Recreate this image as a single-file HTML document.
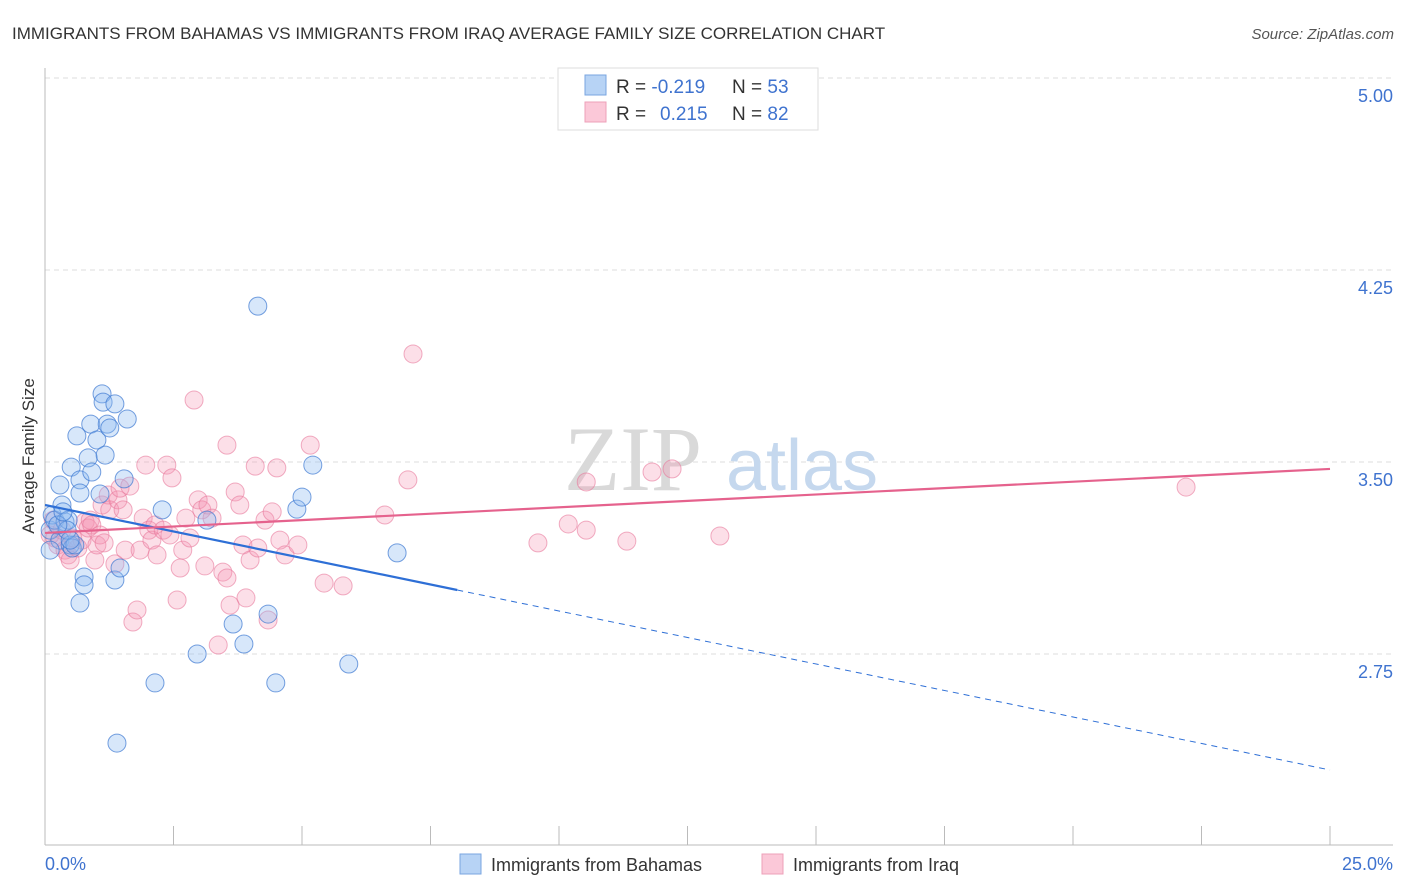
<!DOCTYPE html>
<html><head><meta charset="utf-8"><style>
html,body{margin:0;padding:0;background:#fff;width:1406px;height:892px;overflow:hidden;font-family:"Liberation Sans",sans-serif}
</style></head><body>
<svg id="chart" width="1406" height="892" xmlns="http://www.w3.org/2000/svg" font-family="Liberation Sans, sans-serif">
<text x="12" y="39" font-size="17" fill="#333">IMMIGRANTS FROM BAHAMAS VS IMMIGRANTS FROM IRAQ AVERAGE FAMILY SIZE CORRELATION CHART</text>
<text x="1394" y="39" font-size="15" fill="#555" font-style="italic" text-anchor="end">Source: ZipAtlas.com</text>
<g id="grid"></g>
<g>
<text x="633" y="490" font-size="92" font-family="Liberation Serif, serif" fill="#d9d9d9" text-anchor="middle">ZIP</text>
<text x="802" y="490" font-size="72" fill="#c5d8ee" text-anchor="middle">atlas</text>
</g>
<g id="axes"></g>
<g id="points"></g>
<g id="trends"></g>
<text transform="translate(34,456) rotate(-90)" font-size="17" fill="#333" text-anchor="middle">Average Family Size</text>
<g>
<rect x="558" y="68" width="260" height="62" fill="#fff" stroke="#ddd"/>
<rect x="585" y="75" width="21" height="20" fill="#b7d3f5" stroke="#7aa6e0"/>
<text x="616" y="93" font-size="19" fill="#333">R = <tspan fill="#3f73cf">-0.219</tspan><tspan x="732">N = </tspan><tspan fill="#3f73cf">53</tspan></text>
<rect x="585" y="102" width="21" height="20" fill="#fbc8d8" stroke="#eea0b9"/>
<text x="616" y="120" font-size="19" fill="#333">R = <tspan x="660" fill="#3f73cf">0.215</tspan><tspan x="732">N = </tspan><tspan fill="#3f73cf">82</tspan></text>
</g>
<g>
<rect x="460" y="854" width="21" height="20" fill="#b7d3f5" stroke="#7aa6e0"/>
<text x="491" y="871" font-size="18" fill="#333">Immigrants from Bahamas</text>
<rect x="762" y="854" width="21" height="20" fill="#fbc8d8" stroke="#eea0b9"/>
<text x="793" y="871" font-size="18" fill="#333">Immigrants from Iraq</text>
</g>
</svg>
<script>
const yTicks=[5.00,4.25,3.50,2.75];
const yTickLabels=["5.00","4.25","3.50","2.75"];
const xTicks=[0,2.5,5,7.5,10,12.5,15,17.5,20,22.5,25];
const xEndLabels=["0.0%","25.0%"];
const bahamasX=[0.10,0.14,0.19,0.29,0.33,0.39,0.45,0.49,0.53,0.58,0.10,0.29,0.51,0.62,0.68,0.68,0.84,0.89,0.91,1.01,1.07,1.11,1.13,1.17,1.21,1.26,1.36,1.36,1.46,1.54,1.60,0.76,0.76,0.68,0.43,2.28,3.15,1.40,2.14,2.96,3.66,3.87,4.14,4.34,4.49,4.90,5.00,5.21,5.91,6.85,0.25,0.35,0.49];
const bahamasY=[3.234,3.293,3.273,3.195,3.332,3.266,3.273,3.176,3.164,3.176,3.156,3.410,3.480,3.602,3.430,3.379,3.516,3.648,3.461,3.586,3.375,3.766,3.734,3.527,3.648,3.633,3.727,3.039,3.086,3.434,3.668,3.051,3.020,2.949,3.234,3.313,3.273,2.402,2.637,2.750,2.867,2.789,4.109,2.906,2.637,3.316,3.363,3.488,2.711,3.145,3.254,3.305,3.195];
const iraqX=[0.10,0.16,0.19,0.25,0.33,0.39,0.45,0.49,0.54,0.64,0.72,0.78,0.84,0.88,0.91,0.97,1.01,1.07,1.11,1.15,1.23,1.26,1.36,1.42,1.46,1.52,1.56,1.65,1.71,1.79,1.85,1.91,1.96,2.02,2.08,2.14,2.18,2.30,2.37,2.43,2.47,2.57,2.63,2.68,2.74,2.82,2.90,2.98,3.05,3.11,3.17,3.25,3.37,3.46,3.54,3.60,3.70,3.79,3.85,3.91,3.99,4.09,4.14,4.28,4.34,4.42,4.51,4.57,4.67,4.92,5.16,5.43,5.80,6.61,7.06,7.16,9.59,10.18,10.53,10.53,11.32,11.81,12.20,13.13,22.20,3.54];
const iraqY=[3.215,3.273,3.203,3.176,3.234,3.156,3.137,3.117,3.203,3.164,3.195,3.266,3.242,3.273,3.254,3.117,3.176,3.215,3.332,3.184,3.371,3.313,3.102,3.352,3.398,3.313,3.156,3.406,2.875,2.922,3.156,3.281,3.488,3.234,3.195,3.254,3.137,3.234,3.488,3.215,3.438,2.961,3.086,3.156,3.281,3.203,3.742,3.352,3.313,3.094,3.332,3.281,2.785,3.070,3.047,2.941,3.383,3.332,3.176,2.969,3.117,3.484,3.164,3.273,2.883,3.305,3.477,3.195,3.137,3.176,3.566,3.027,3.016,3.293,3.430,3.922,3.184,3.258,3.422,3.234,3.191,3.461,3.473,3.211,3.402,3.566];
const bahamasTrend=[3.332,2.297];
const bahamasSolidEnd=8.02;
const iraqTrend=[3.223,3.473];

const NS="http://www.w3.org/2000/svg";
const X0=45,X1=1330,YTOP=78,YBOT=654;
function sx(v){return X0+(v/25)*(X1-X0);}
function sy(v){return YTOP+(5-v)/(2.25)*(YBOT-YTOP);}
function mk(tag,attrs,parent){const e=document.createElementNS(NS,tag);for(const k in attrs)e.setAttribute(k,attrs[k]);parent.appendChild(e);return e;}
const grid=document.getElementById('grid'),axes=document.getElementById('axes'),pts=document.getElementById('points'),tr=document.getElementById('trends');
yTicks.forEach((t,i)=>{
  const l=mk('line',{x1:45,x2:1393,y1:sy(t),y2:sy(t),stroke:'#ddd','stroke-dasharray':'5,4'},grid);
  
  
  const tx=mk('text',{x:1393,y:sy(t)+24,'font-size':18,fill:'#3f73cf','text-anchor':'end'},axes);
  tx.textContent=yTickLabels[i];
  
  
});
const ya=mk('line',{x1:45,x2:45,y1:68,y2:845,stroke:'#bbb'},axes);


const xa=mk('line',{x1:45,x2:1393,y1:845,y2:845,stroke:'#bbb'},axes);


xTicks.forEach(t=>{
  const l=mk('line',{x1:sx(t),x2:sx(t),y1:826,y2:845,stroke:'#bbb'},axes);
  
  
});
[[0,'start',45],[1,'end',1393]].forEach(([i,a,x])=>{
  const tx=mk('text',{x:x,y:870,'font-size':18,fill:'#3f73cf','text-anchor':a},axes);
  tx.textContent=xEndLabels[i];
  
  
});
iraqX.forEach((x,i)=>{
  const c=mk('circle',{cx:sx(x),cy:sy(iraqY[i]),r:9,fill:'rgba(244,150,180,0.3)',stroke:'rgba(232,120,155,0.6)','stroke-width':1},pts);
  
  
});
bahamasX.forEach((x,i)=>{
  const c=mk('circle',{cx:sx(x),cy:sy(bahamasY[i]),r:9,fill:'rgba(140,185,240,0.35)',stroke:'rgba(60,120,210,0.7)','stroke-width':1},pts);
  
  
});
function ty(tr2,x){return tr2[0]+(tr2[1]-tr2[0])*x/25;}
const bs=mk('line',{x1:sx(0),y1:sy(bahamasTrend[0]),x2:sx(bahamasSolidEnd),y2:sy(ty(bahamasTrend,bahamasSolidEnd)),stroke:'#2e6fd6','stroke-width':2.2},tr);


const bd=mk('line',{x1:sx(bahamasSolidEnd),y1:sy(ty(bahamasTrend,bahamasSolidEnd)),x2:sx(25),y2:sy(bahamasTrend[1]),stroke:'#2e6fd6','stroke-width':1,'stroke-dasharray':'6,5'},tr);


const ip=mk('line',{x1:sx(0),y1:sy(iraqTrend[0]),x2:sx(25),y2:sy(iraqTrend[1]),stroke:'#e5628d','stroke-width':2.2},tr);


</script>
</body></html>
